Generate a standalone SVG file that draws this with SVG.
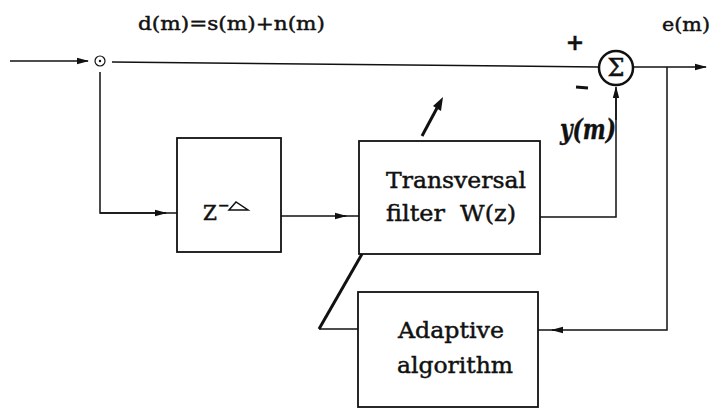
<svg xmlns="http://www.w3.org/2000/svg" width="715" height="409" viewBox="0 0 715 409">
<defs>
<marker id="ah" markerWidth="12" markerHeight="8" refX="11" refY="4" orient="auto" markerUnits="userSpaceOnUse">
<path d="M0,0.8 L12,4 L0,7.2 Z" fill="#111"/>
</marker>
</defs>
<style>
.ln{stroke:#111;stroke-width:1.5;fill:none}
.box{stroke:#111;stroke-width:1.8;fill:#fff}
.t{font-family:"DejaVu Serif","Liberation Serif",serif;fill:#111;stroke:#111;stroke-width:0.45}
</style>
<rect width="715" height="409" fill="#fff"/>
<text class="t" x="138" y="30" font-size="19" textLength="187" lengthAdjust="spacingAndGlyphs">d(m)=s(m)+n(m)</text>
<text class="t" x="662" y="31" font-size="19" textLength="48" lengthAdjust="spacingAndGlyphs">e(m)</text>
<g id="connectors">
<line class="ln" x1="10" y1="61" x2="88" y2="61" marker-end="url(#ah)"/>
<path class="ln" d="M112,62 L598,67"/>
<line class="ln" x1="634" y1="67" x2="706" y2="67" marker-end="url(#ah)"/>
<path class="ln" d="M100,72 L100,213 L166,213"/>
<line class="ln" x1="100" y1="213" x2="166" y2="213" marker-end="url(#ah)"/>
<line class="ln" x1="164" y1="213" x2="177" y2="213"/>
<line class="ln" x1="281" y1="216" x2="346" y2="216" marker-end="url(#ah)"/>
<line class="ln" x1="344" y1="216" x2="359" y2="216"/>
<path class="ln" d="M540,217 L616,217 L616,90"/>
<line class="ln" x1="616" y1="120" x2="616" y2="87" marker-end="url(#ah)"/>
<path class="ln" d="M667,67 L667,330 L552,330"/>
<line class="ln" x1="560" y1="330" x2="552" y2="330" marker-end="url(#ah)"/>
<line class="ln" x1="552" y1="330" x2="538" y2="330"/>
<path class="ln" d="M358,329 L319,329"/>
<line x1="319" y1="329" x2="362" y2="254" stroke="#111" stroke-width="3"/>
<line x1="422" y1="136" x2="437" y2="108" stroke="#111" stroke-width="3"/>
<path d="M433,106 L443,97 L441,111 Z" fill="#111"/>
</g>
<g id="junction">
<circle cx="100" cy="61" r="5" fill="none" stroke="#111" stroke-width="1.2"/>
<circle cx="100" cy="61" r="1.2" fill="#111"/>
</g>
<g id="sum">
<circle cx="616" cy="68" r="17" fill="#fff" stroke="#111" stroke-width="2.5"/>
<text class="t" x="616" y="76" font-size="24" text-anchor="middle">Σ</text>
<text class="t" x="575" y="50" font-size="22" text-anchor="middle" font-weight="bold">+</text>
<line x1="576" y1="87" x2="588" y2="88" stroke="#111" stroke-width="3"/>
<text class="t" x="560" y="139" font-size="28" font-style="italic" font-weight="bold" textLength="56" lengthAdjust="spacingAndGlyphs">y(m)</text>
</g>
<g id="delay">
<rect class="box" x="177" y="138" width="104" height="114"/>
<text class="t" x="203" y="220" font-size="20">Z</text>
<text class="t" x="218" y="210" font-size="14">−</text>
<path d="M229,210 L236,202 L248,210 Z" fill="none" stroke="#111" stroke-width="1.5"/>
</g>
<g id="filter">
<rect class="box" x="359" y="141" width="181" height="113"/>
<text class="t" x="386" y="188" font-size="22" textLength="140" lengthAdjust="spacingAndGlyphs">Transversal</text>
<text class="t" x="386" y="221" font-size="22" textLength="130" lengthAdjust="spacingAndGlyphs">filter&#160;&#160;W(z)</text>
</g>
<g id="adaptive">
<rect class="box" x="358" y="292" width="180" height="115"/>
<text class="t" x="398" y="338" font-size="22" textLength="106" lengthAdjust="spacingAndGlyphs">Adaptive</text>
<text class="t" x="397" y="373" font-size="22" textLength="116" lengthAdjust="spacingAndGlyphs">algorithm</text>
</g>
</svg>
